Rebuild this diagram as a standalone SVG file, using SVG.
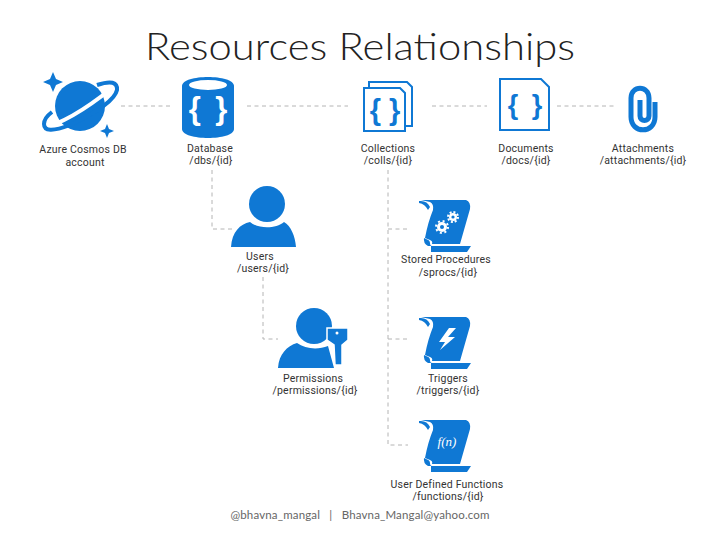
<svg xmlns="http://www.w3.org/2000/svg" xmlns:xlink="http://www.w3.org/1999/xlink" width="720" height="540" viewBox="0 0 720 540">
<style>
.b{fill:#0f78d4}
.w{fill:#fff}
.l{font-family:Roboto,"Liberation Sans",sans-serif;font-size:10.5px;fill:#333;text-anchor:middle;letter-spacing:.2px}
.c{fill:none;stroke:#b4b4b4;stroke-width:1;stroke-dasharray:4 3.5}
.o{fill:#fff;stroke:#0f78d4;stroke-width:2}
.br{font-family:"Liberation Sans",sans-serif;font-weight:bold;fill:#0f78d4;text-anchor:middle}
.g{fill:none;stroke:#fff;stroke-width:2}
</style>
<defs>
<g id="scroll">
<path class="b" d="M2 0H47Q52 2 51 9L41 44H13Q14 41 11 40L6 38Q9 22 14 10Q15 4 11 2Z"/>
<path class="b" d="M0 1Q8 0 11 7L9 10Q6 4 0 3Z"/>
<path class="b" d="M5 38Q4 43 9 46H12V52H48L52 46H13Q11 46 11 43Q11 40 7 39Z"/>
</g>
</defs>
<rect width="720" height="540" fill="#fff"/>
<g id="connectors">
<path class="c" d="M121 106H172M247 106H348M432 106H487M557 106H615"/>
<path class="c" d="M212 170V229H232"/>
<path class="c" d="M263 277V339H278"/>
<path class="c" d="M388 170V445H408M388 229H408M388 339H408"/>
</g>
<text id="title" x="360" y="60" font-family="Lato,'Liberation Sans',sans-serif" font-weight="300" font-size="38" fill="#222" text-anchor="middle" textLength="430" lengthAdjust="spacingAndGlyphs">Resources Relationships</text>
<g id="cosmos">
<circle class="b" cx="80" cy="106" r="25"/>
<path d="M40 129Q70 122 112 88" fill="none" stroke="#fff" stroke-width="4"/>
<path d="M97 85Q118 78 117 90Q114 104 70 125Q44 135 44 124Q44 118 52 112" fill="none" stroke="#0f78d4" stroke-width="4"/>
<path class="b" d="M53 72L56 79L63 82L56 85L53 92L50 85L43 82L50 79Z"/>
<path class="b" d="M107 124L109 129L114 131L109 133L107 138L105 133L100 131L105 129Z"/>
<text class="l" x="83" y="153">Azure Cosmos DB</text>
<text class="l" x="85" y="166">account</text>
</g>
<g id="database">
<path class="b" d="M182 86C182 74 234 74 234 86V129C234 141 182 141 182 129Z"/>
<ellipse class="w" cx="208" cy="85" rx="19" ry="5"/>
<text class="br" x="208" y="119" font-size="31" style="fill:#fff;word-spacing:6px">{ }</text>
<text class="l" x="210" y="152">Database</text>
<text class="l" x="211" y="164">/dbs/{id}</text>
</g>
<g id="collections">
<path class="o" d="M369 82H407L412 87V126H369Z"/>
<path class="o" d="M364 88H400L405 93V131H364Z"/>
<text class="br" x="385" y="120" font-size="29">{ }</text>
<text class="l" x="388" y="152">Collections</text>
<text class="l" x="388" y="164">/colls/{id}</text>
</g>
<g id="documents">
<path class="o" d="M500 79H541L549 87V130H500Z"/>
<text class="br" x="525" y="114" font-size="27" style="word-spacing:6px">{ }</text>
<text class="l" x="526" y="152">Documents</text>
<text class="l" x="526" y="164">/docs/{id}</text>
</g>
<g id="attachments">
<path d="M655 102V117C655 134 631 134 631 117V98C631 85 649 85 649 98V116C649 122 640 122 640 116V100" fill="none" stroke="#0f78d4" stroke-width="5"/>
<text class="l" x="643" y="152">Attachments</text>
<text class="l" x="643" y="164">/attachments/{id}</text>
</g>
<g id="users">
<circle class="b" cx="267" cy="204" r="18"/>
<path class="b" d="M231 247C232 232 240 224 250 222C258 229 276 229 284 222C291 226 295 236 296 247Z"/>
<text class="l" x="260" y="260">Users</text>
<text class="l" x="263" y="272">/users/{id}</text>
</g>
<g id="stored-procedures">
<use xlink:href="#scroll" x="419" y="200"/>
<circle class="w" cx="442" cy="227" r="5"/>
<circle class="b" cx="442" cy="227" r="2"/>
<circle class="g" cx="442" cy="227" r="6" stroke-dasharray="2 2.7"/>
<circle class="w" cx="453" cy="217" r="4"/>
<circle class="b" cx="453" cy="217" r="1.6"/>
<circle class="g" cx="453" cy="217" r="5" stroke-dasharray="2 1.9"/>
<text class="l" x="446" y="263">Stored Procedures</text>
<text class="l" x="448" y="276">/sprocs/{id}</text>
</g>
<g id="permissions">
<circle class="b" cx="314" cy="326" r="18"/>
<path class="b" d="M278 368C279 354 287 346 297 343C305 349 318 350 328 346L334 368Z"/>
<path class="b" stroke="#fff" stroke-width="1.5" d="M327 328H348V340L342 345V365H335L334 345L327 340Z"/>
<circle class="w" cx="337" cy="333" r="1.5"/>
<text class="l" x="313" y="382">Permissions</text>
<text class="l" x="315" y="394">/permissions/{id}</text>
</g>
<g id="triggers">
<use xlink:href="#scroll" x="419" y="317"/>
<path class="w" d="M449 328L439 342H445L440 350L455 337H448L456 328Z"/>
<text class="l" x="448" y="382">Triggers</text>
<text class="l" x="448" y="394">/triggers/{id}</text>
</g>
<g id="functions">
<use xlink:href="#scroll" x="419" y="420"/>
<text x="447" y="446" font-family="'Liberation Serif',serif" font-style="italic" font-size="13" fill="#fff" text-anchor="middle">f(n)</text>
<text class="l" x="447" y="488">User Defined Functions</text>
<text class="l" x="448" y="500">/functions/{id}</text>
</g>
<text id="footer" x="360" y="519" font-family="Lato,'Liberation Sans',sans-serif" font-size="11.5" fill="#666" text-anchor="middle" textLength="259" xml:space="preserve">@bhavna_mangal   |   Bhavna_Mangal@yahoo.com</text>
</svg>
